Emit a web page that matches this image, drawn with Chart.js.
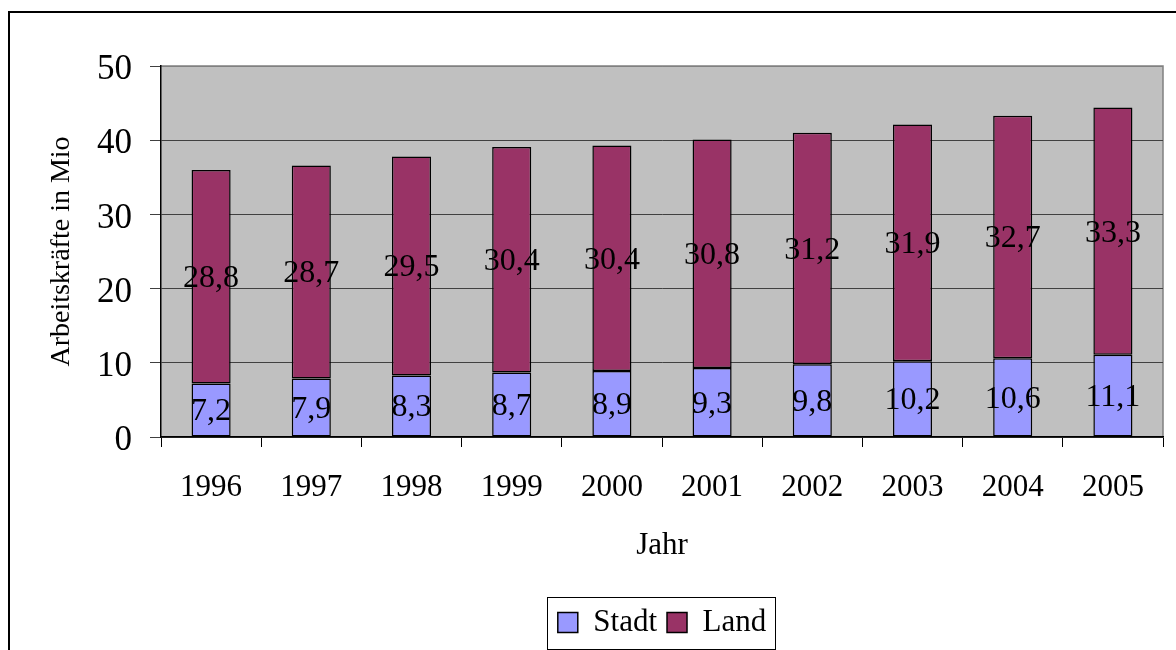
<!DOCTYPE html>
<html>
<head>
<meta charset="utf-8">
<script src="https://cdn.jsdelivr.net/npm/chart.js@4/dist/chart.umd.min.js"></script>
<style>
html,body{margin:0;padding:0;background:#fff;}
#wrap{width:1176px;height:650px;position:relative;}
</style>
</head>
<body>
<div id="wrap"><canvas id="c" width="1176" height="650"></canvas></div>
<script>
const years = ['1996','1997','1998','1999','2000','2001','2002','2003','2004','2005'];
const stadt = [7.2, 7.9, 8.3, 8.7, 8.9, 9.3, 9.8, 10.2, 10.6, 11.1];
const land = [28.8, 28.7, 29.5, 30.4, 30.4, 30.8, 31.2, 31.9, 32.7, 33.3];
const seriesNames = ['Stadt', 'Land'];
const yTitle = 'Arbeitskräfte in Mio';
const xTitle = 'Jahr';

const FONT = "'Liberation Serif', 'Times New Roman', serif";

const framePlugin = {
  id: 'frame',
  afterUpdate(chart) {
    // centre the legend under the plot area, as in the original
    const lg = chart.legend;
    if (!lg) return;
    const a = chart.chartArea;
    const target = (a.left + a.right) / 2;
    const hb = lg.legendHitBoxes || [];
    if (!hb.length) return;
    const cur = (hb[0].left + hb[hb.length - 1].left + hb[hb.length - 1].width) / 2;
    const dx = target - cur;
    lg.left += dx; lg.right += dx;
    hb.forEach(h => { h.left += dx; });
  },
  beforeDraw(chart) {
    const ctx = chart.ctx, a = chart.chartArea;
    ctx.save();
    ctx.fillStyle = '#fff';
    ctx.fillRect(0, 0, chart.width, chart.height);
    ctx.lineWidth = 2;
    ctx.strokeStyle = '#000';
    ctx.strokeRect(9, 12, 1300, 800);
    ctx.fillStyle = '#c0c0c0';
    ctx.fillRect(a.left, a.top, a.right - a.left, a.bottom - a.top);
    ctx.lineWidth = 1.5;
    ctx.strokeStyle = '#808080';
    ctx.beginPath();
    ctx.moveTo(a.left, a.top);
    ctx.lineTo(a.right, a.top);
    ctx.lineTo(a.right, a.bottom);
    ctx.stroke();
    ctx.restore();
  },
  afterDatasetsDraw(chart) {
    const ctx = chart.ctx;
    ctx.save();
    ctx.font = "32px " + FONT;
    ctx.fillStyle = '#000';
    ctx.textAlign = 'center';
    ctx.textBaseline = 'middle';
    chart.data.datasets.forEach((ds, di) => {
      const meta = chart.getDatasetMeta(di);
      meta.data.forEach((bar, i) => {
        const v = ds.data[i];
        const y = (bar.y + bar.base) / 2;
        ctx.fillText(v.toFixed(1).replace('.', ','), bar.x, y + 2);
      });
    });
    ctx.restore();
  },
  afterDraw(chart) {
    const lg = chart.legend;
    if (!lg || !lg.legendHitBoxes || !lg.legendHitBoxes.length) return;
    const hb = lg.legendHitBoxes;
    const first = hb[0], last = hb[hb.length - 1];
    const l = first.left - 11, r = last.left + last.width + 9;
    const cy = first.top + first.height / 2;
    const ctx = chart.ctx;
    ctx.save();
    ctx.lineWidth = 1;
    ctx.strokeStyle = '#000';
    ctx.strokeRect(Math.round(l) + 0.5, Math.round(cy - 26) + 0.5, Math.round(r - l), 52);
    ctx.restore();
  }
};

new Chart(document.getElementById('c'), {
  type: 'bar',
  data: {
    labels: years,
    datasets: [
      { label: seriesNames[0], data: stadt, backgroundColor: '#9999ff', borderColor: '#000', borderWidth: 1.5, borderSkipped: false },
      { label: seriesNames[1], data: land, backgroundColor: '#993366', borderColor: '#000', borderWidth: 1.5, borderSkipped: false }
    ]
  },
  options: {
    responsive: false,
    animation: false,
    events: [],
    layout: { padding: { left: 0, right: 13, top: 66, bottom: 2 } },
    datasets: { bar: { barPercentage: 0.39, categoryPercentage: 1 } },
    plugins: {
      tooltip: { enabled: false },
      legend: {
        position: 'bottom',
        labels: {
          font: { family: FONT, size: 31 },
          color: '#000',
          boxWidth: 20,
          boxHeight: 20,
          padding: 10
        }
      }
    },
    scales: {
      x: {
        stacked: true,
        grid: { offset: true, drawOnChartArea: false, drawTicks: true, tickLength: 10, color: '#000', lineWidth: 1 },
        border: { display: true, color: '#000', width: 1.5 },
        ticks: { font: { family: FONT, size: 31 }, color: '#000', padding: 22, maxRotation: 0 },
        title: { display: true, text: xTitle, font: { family: FONT, size: 31 }, color: '#000', padding: { top: 20, bottom: 33 } },
        afterFit(s) { s.height = 160; }
      },
      y: {
        stacked: true,
        min: 0, max: 50,
        ticks: { stepSize: 10, font: { family: FONT, size: 35 }, color: '#000', padding: 18, labelOffset: 4 },
        grid: {
          color: (c) => (c.tick && c.tick.value === 50) ? '#808080' : '#404040',
          tickColor: '#404040',
          tickLength: 11,
          lineWidth: 1
        },
        border: { display: true, color: '#000', width: 1.5 },
        title: { display: true, text: yTitle, font: { family: FONT, size: 28 }, color: '#000', padding: { top: 45, bottom: 0 } },
        afterFit(s) { s.width = 161; }
      }
    }
  },
  plugins: [framePlugin]
});
</script>
</body>
</html>
